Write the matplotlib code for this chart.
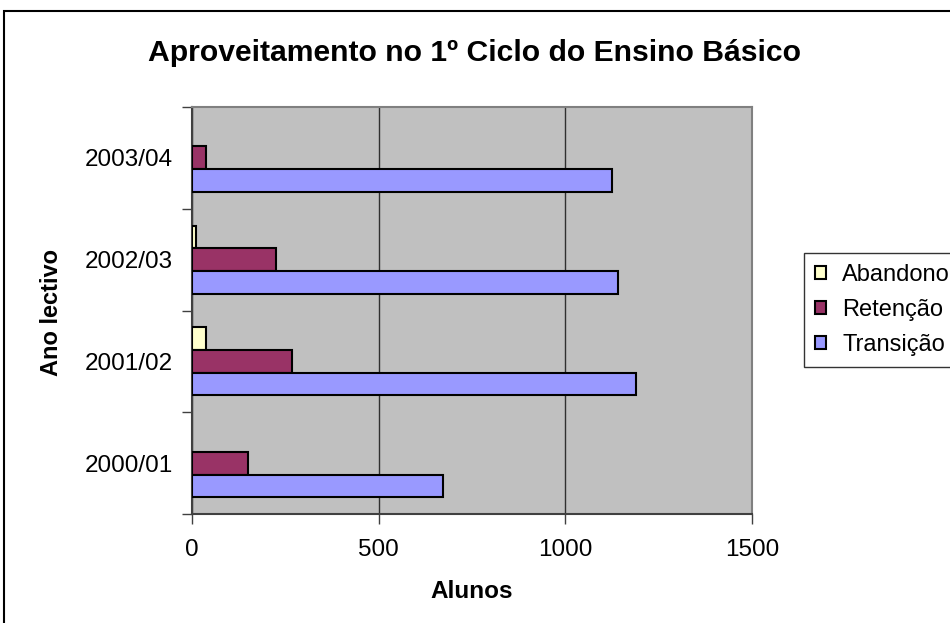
import matplotlib
matplotlib.use("Agg")
import matplotlib.pyplot as plt
import numpy as np
from matplotlib.patches import Rectangle, Patch

plt.rcParams['font.family'] = ['Liberation Sans', 'DejaVu Sans']

categories = ["2000/01", "2001/02", "2002/03", "2003/04"]
abandono = [0, 37, 10, 0]
retencao = [149, 267, 224, 38]
transicao = [672, 1189, 1141, 1126]
series_names = ["Abandono", "Retenção", "Transição"]
colors = ["#FFFFCC", "#993366", "#9999FF"]

W, H = 950, 623
fig = plt.figure(figsize=(9.5, 6.23), dpi=100)
fig.patches.append(Rectangle((4 / W, -0.1), 1.2, 1 - 11 / H + 0.1, transform=fig.transFigure,
                             fill=False, edgecolor='black', linewidth=1.5))

ax = fig.add_axes([192 / W, 1 - 514.3 / H, (752 - 192) / W, (514.3 - 106.7) / H])
ax.set_facecolor('#C0C0C0')

y = np.arange(len(categories))
h = 1 / 4.5
for vals, off, name, c in zip([abandono, retencao, transicao], [h, 0, -h], series_names, colors):
    vals = np.asarray(vals, dtype=float)
    bars = ax.barh(y + off, vals, height=h, color=c, edgecolor='black', linewidth=1.5, zorder=3)
    for b, v in zip(bars, vals):
        if v == 0:
            b.set_visible(False)

ax.set_xlim(0, 1500)
ax.set_ylim(-0.5, 3.5)
ax.set_xticks([0, 500, 1000, 1500])
ax.set_xticklabels(["0", "500", "1000", "1500"], fontsize=17.5)
ax.set_yticks(y)
ax.set_yticklabels(categories, fontsize=17.5)
ax.set_yticks(np.arange(-0.5, 4, 1), minor=True)
ax.tick_params(axis='y', which='major', length=0, pad=14)
ax.tick_params(axis='y', which='minor', length=7, width=1, color='#404040')
ax.tick_params(axis='x', which='major', length=7, width=1, color='#404040', pad=11)
ax.xaxis.grid(True, color='#303030', linewidth=1, zorder=1)
ax.set_axisbelow(True)
for s in ['top', 'right']:
    ax.spines[s].set_color('#808080')
    ax.spines[s].set_linewidth(1.5)
for s in ['left', 'bottom']:
    ax.spines[s].set_color('#404040')
    ax.spines[s].set_linewidth(1.5)

fig.text(472 / W, 1 - 591.7 / H, "Alunos", ha='center', va='center', fontsize=17.5, fontweight='bold')
fig.text(52 / W, 1 - 312 / H, "Ano lectivo", ha='center', va='center', rotation=90,
         fontsize=17, fontweight='bold')

fig.text(475 / W, 1 - 53 / H, "Aproveitamento no 1º Ciclo do Ensino Básico", ha='center', va='center',
         fontsize=21.7, fontweight='bold')

handles = [Patch(facecolor=c, edgecolor='black', linewidth=1.5) for c in colors]
leg = fig.legend(handles, series_names, loc='upper left', bbox_to_anchor=(804 / W, 1 - 253.3 / H),
                 fontsize=17, frameon=True, fancybox=False, shadow=False, borderpad=0.45,
                 handlelength=0.47, handleheight=0.47, handletextpad=0.7, labelspacing=0.55,
                 borderaxespad=0)
leg.get_frame().set_edgecolor('black')
leg.get_frame().set_linewidth(1.0)

fig.savefig("out.png", dpi=100)
